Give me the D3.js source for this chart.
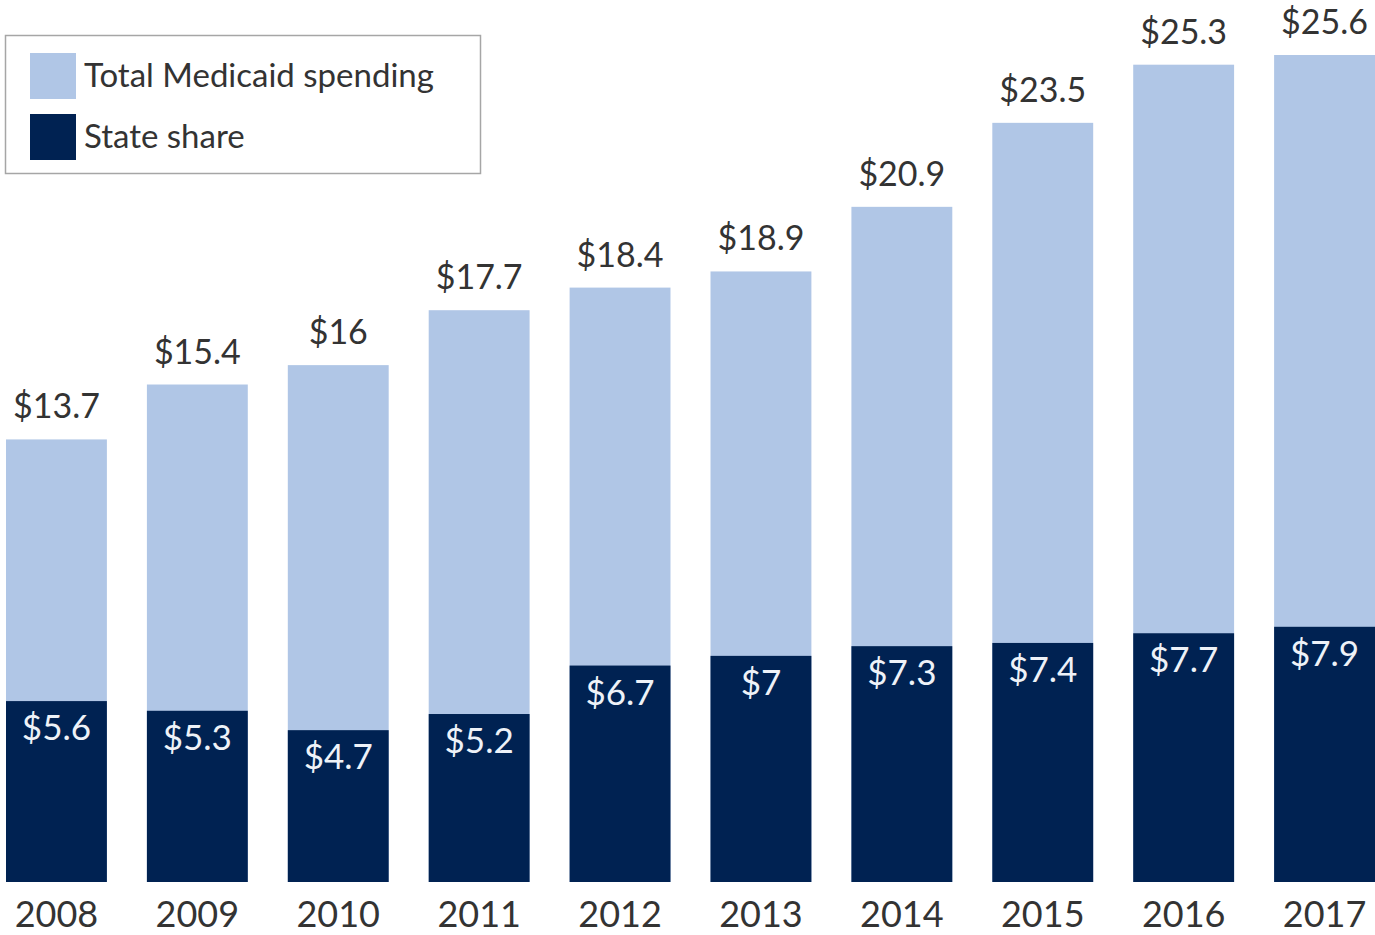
<!DOCTYPE html>
<html>
<head>
<meta charset="utf-8">
<script src="https://cdnjs.cloudflare.com/ajax/libs/d3/7.8.5/d3.min.js"></script>
<style>
  body { margin: 0; background: #fff; }
  #chart { width: 1375px; height: 935px; }
  text { font-family: Lato, "Open Sans", sans-serif; }
</style>
</head>
<body>
<div id="chart"></div>
<script>
// Datos
const years = ['2008', '2009', '2010', '2011', '2012', '2013', '2014', '2015', '2016', '2017'];
const totalSpending = [13.7, 15.4, 16, 17.7, 18.4, 18.9, 20.9, 23.5, 25.3, 25.6];
const stateShare = [5.6, 5.3, 4.7, 5.2, 6.7, 7, 7.3, 7.4, 7.7, 7.9];
const legendLabels = ['Total Medicaid spending', 'State share'];

// Colores fijos
const COLOR_LIGHT = '#b0c6e6',
    COLOR_DARK = '#002252',
    COLOR_TEXT = '#333333';

let data = years.map(function(d, i) {
    return { year: d, total: totalSpending[i], state: stateShare[i] };
});

let width = 1375, height = 935;

let svg = d3.select('#chart')
    .append('svg')
    .attr('width', width)
    .attr('height', height);

// Escalas
let x = d3.scaleBand()
    .domain(years)
    .range([6, 1375])
    .paddingInner(0.284)
    .paddingOuter(0);

let y = d3.scaleLinear()
    .domain([0, d3.max(totalSpending)])
    .range([882, 55]);

// Barras totales
svg.append('g')
    .selectAll('rect')
    .data(data)
    .enter()
    .append('rect')
    .attr('x', function(d) { return x(d.year); })
    .attr('width', x.bandwidth())
    .attr('y', function(d) { return y(d.total); })
    .attr('height', function(d) { return y(0) - y(d.total); })
    .attr('fill', COLOR_LIGHT);

// Barras parte estatal
svg.append('g')
    .selectAll('rect')
    .data(data)
    .enter()
    .append('rect')
    .attr('x', function(d) { return x(d.year); })
    .attr('width', x.bandwidth())
    .attr('y', function(d) { return y(d.state); })
    .attr('height', function(d) { return y(0) - y(d.state); })
    .attr('fill', COLOR_DARK);

// Etiquetas totales
svg.append('g')
    .selectAll('text')
    .data(data)
    .enter()
    .append('text')
    .attr('x', function(d) { return x(d.year) + x.bandwidth() / 2; })
    .attr('y', function(d) { return y(d.total) - 21; })
    .attr('text-anchor', 'middle')
    .style('font-size', '34px')
    .style('fill', COLOR_TEXT)
    .text(function(d) { return '$' + d.total; });

// Etiquetas parte estatal
svg.append('g')
    .selectAll('text')
    .data(data)
    .enter()
    .append('text')
    .attr('x', function(d) { return x(d.year) + x.bandwidth() / 2; })
    .attr('y', function(d) { return y(d.state) + 39; })
    .attr('text-anchor', 'middle')
    .style('font-size', '35px')
    .style('fill', '#eef2f8')
    .text(function(d) { return '$' + d.state; });

// Eje X
let xAxis = function(g) {
    g.call(d3.axisBottom(x).tickSize(0).tickPadding(0));
    g.call(function(g) { g.select('.domain').remove(); });
    g.call(function(g) {
        g.selectAll('.tick text')
            .attr('dy', 0)
            .attr('y', 45)
            .style('font-size', '36px')
            .style('font-family', 'Lato, sans-serif')
            .style('fill', COLOR_TEXT);
    });
};

svg.append('g')
    .attr('transform', 'translate(0,' + y(0) + ')')
    .call(xAxis);

// Leyenda
let legend = svg.append('g');

legend.append('rect')
    .attr('x', 5.5)
    .attr('y', 35.5)
    .attr('width', 475)
    .attr('height', 138)
    .attr('fill', '#fff')
    .attr('stroke', '#a6a6a6')
    .attr('stroke-width', 1.5);

let legendColor = d3.scaleOrdinal()
    .domain(legendLabels)
    .range([COLOR_LIGHT, COLOR_DARK]);

let legendY = d3.scalePoint()
    .domain(legendLabels)
    .range([53, 114]);

let items = legend.selectAll('g.item')
    .data(legendLabels)
    .enter()
    .append('g')
    .attr('class', 'item')
    .attr('transform', function(d) { return 'translate(30,' + legendY(d) + ')'; });

items.append('rect')
    .attr('width', 46)
    .attr('height', 46)
    .attr('fill', function(d) { return legendColor(d); });

items.append('text')
    .attr('x', 54)
    .attr('y', 34)
    .style('font-size', '33px')
    .style('fill', COLOR_TEXT)
    .text(function(d) { return d; });
</script>
</body>
</html>
